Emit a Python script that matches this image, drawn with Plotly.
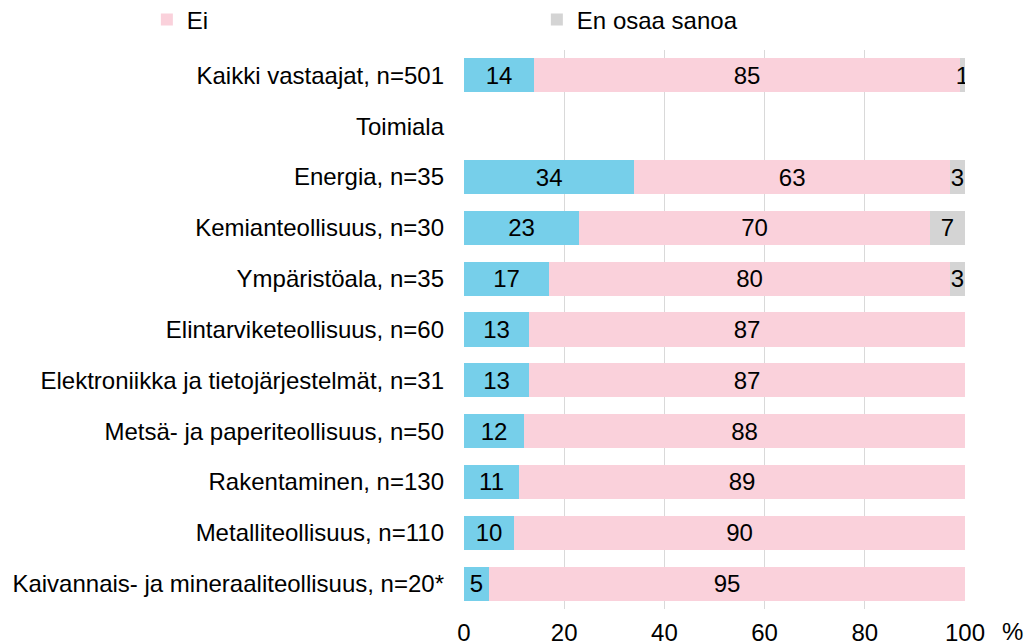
import plotly.graph_objects as go

categories = [
    "Kaikki vastaajat, n=501",
    "Toimiala",
    "Energia, n=35",
    "Kemianteollisuus, n=30",
    "Ympäristöala, n=35",
    "Elintarviketeollisuus, n=60",
    "Elektroniikka ja tietojärjestelmät, n=31",
    "Metsä- ja paperiteollisuus, n=50",
    "Rakentaminen, n=130",
    "Metalliteollisuus, n=110",
    "Kaivannais- ja mineraaliteollisuus, n=20*",
]
kylla = [14, None, 34, 23, 17, 13, 13, 12, 11, 10, 5]
ei = [85, None, 63, 70, 80, 87, 87, 88, 89, 90, 95]
eos = [1, None, 3, 7, 3, None, None, None, None, None, None]
x_ticks = [0, 20, 40, 60, 80, 100]

FONT = "Liberation Sans, Arial, sans-serif"
FS = 24

fig = go.Figure()
series = [
    ("Kyllä", kylla, "#76CFEA", False),
    ("Ei", ei, "#FAD1DB", True),
    ("En osaa sanoa", eos, "#D4D4D4", True),
]
for name, vals, col, show in series:
    fig.add_trace(go.Bar(
        y=categories, x=vals, name=name, orientation="h",
        marker=dict(color=col, line=dict(width=0)),
        text=[("" if v is None else str(v)) for v in vals],
        textposition="inside", insidetextanchor="middle",
        textfont=dict(family=FONT, size=FS, color="#000000"),
        constraintext="none",
        showlegend=show, width=0.67,
        hoverinfo="x+y+name",
    ))

fig.update_layout(
    barmode="stack",
    width=1026, height=643,
    margin=dict(l=464, r=61, t=50, b=34, autoexpand=False),
    paper_bgcolor="white", plot_bgcolor="white",
    font=dict(family=FONT, size=FS, color="#000000"),
    uniformtext=dict(minsize=FS, mode="show"),
    legend=dict(
        orientation="h", x=-0.633, xanchor="left", y=1.054, yanchor="middle",
        font=dict(family=FONT, size=FS),
        entrywidth=345, entrywidthmode="pixels",
        itemwidth=30, traceorder="normal",
    ),
    xaxis=dict(
        range=[0, 100], tickvals=x_ticks, showgrid=True,
        gridcolor="#D9D9D9", gridwidth=1, zeroline=False,
        showline=False, ticks="", tickfont=dict(size=FS),
        ticklabelstandoff=7, automargin=False,
    ),
    yaxis=dict(
        autorange="reversed", showgrid=False, ticks="",
        tickfont=dict(size=FS), ticklabelstandoff=19, automargin=False,
    ),
    annotations=[dict(
        text="%", x=1.094, y=-0.04, xref="paper", yref="paper",
        xanchor="center", yanchor="middle", showarrow=False,
        font=dict(family=FONT, size=FS),
    )],
)

fig.write_html("out.html", config={"displayModeBar": False},
               post_script="document.body.style.margin='0';")
